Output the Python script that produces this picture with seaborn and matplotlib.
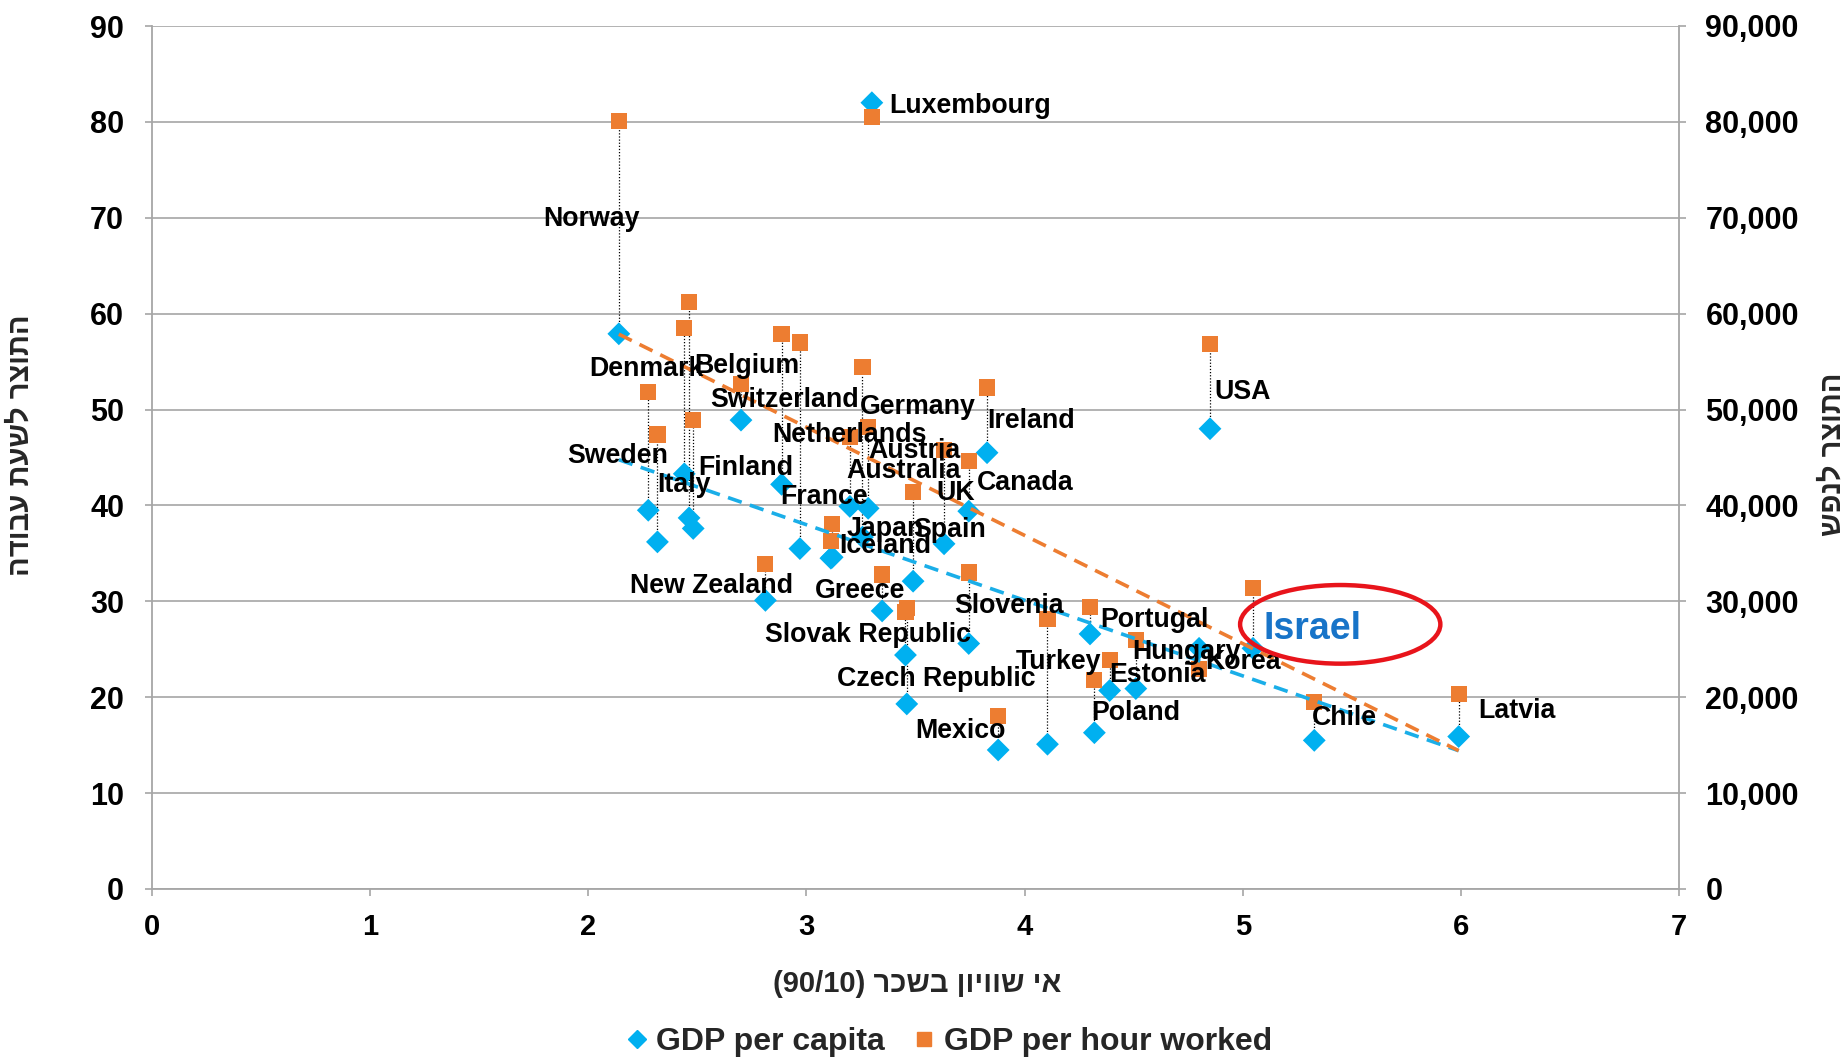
import numpy as np
import pandas as pd
import matplotlib
matplotlib.use("Agg")
import matplotlib.pyplot as plt
from matplotlib.lines import Line2D
from matplotlib.patches import Ellipse
from matplotlib.ticker import FuncFormatter
import seaborn as sns

# ---------------- data ----------------
countries = ["Norway", "Sweden", "Italy", "Denmark", "Belgium", "Finland", "Switzerland",
             "New Zealand", "Netherlands", "France", "Iceland", "Japan", "Australia", "Germany",
             "Austria", "Luxembourg", "Greece", "Slovak Republic", "Czech Republic", "UK",
             "Spain", "Canada", "Slovenia", "Ireland", "Mexico", "Turkey", "Portugal", "Poland",
             "Estonia", "Hungary", "Korea", "USA", "Israel", "Chile", "Latvia"]
wage_inequality = [2.14, 2.275, 2.317, 2.44, 2.462, 2.481, 2.70,
                   2.812, 2.886, 2.97, 3.112, 3.118, 3.199, 3.257,
                   3.283, 3.30, 3.347, 3.454, 3.46, 3.489,
                   3.631, 3.744, 3.744, 3.828, 3.879, 4.105, 4.30, 4.32,
                   4.39, 4.51, 4.80, 4.85, 5.047, 5.328, 5.99]
gdp_per_capita = [57900, 39500, 36200, 43300, 38700, 37600, 48900,
                  30100, 42200, 35500, 34500, 34600, 39900, 36700,
                  39700, 82000, 29000, 24400, 19300, 32100,
                  36000, 39400, 25600, 45500, 14500, 15100, 26600, 16300,
                  20700, 20900, 25100, 48000, 25100, 15500, 15900]
gdp_per_hour = [80.1, 51.8, 47.4, 58.5, 61.2, 48.9, 52.7,
                33.9, 57.9, 57.0, 36.3, 38.1, 47.1, 54.4,
                48.2, 80.5, 32.8, 28.9, 29.3, 41.4,
                45.8, 44.6, 33.0, 52.3, 18.0, 28.2, 29.4, 21.8,
                23.9, 26.0, 22.9, 56.8, 31.4, 19.5, 20.3]
y_ticks_left = [0, 10, 20, 30, 40, 50, 60, 70, 80, 90]
x_ticks = [0, 1, 2, 3, 4, 5, 6, 7]

# ---------------- style ----------------
BLUE = "#00B0F0"
ORANGE = "#ED7D31"
GRID = "#A6A6A6"
FONT = ["Liberation Sans", "DejaVu Sans"]

# label offsets (reference pixels: dx right, dy down) relative to each blue point
label_offsets = {
    "Norway": (-64, -97), "Luxembourg": (15, 3), "Denmark": (-81, -89), "Belgium": (4, -129),
    "Switzerland": (-26, -17), "Sweden": (-69, -46), "Finland": (4, -51), "Italy": (0, -48),
    "Netherlands": (-8, -42), "Germany": (-2, -110), "Austria": (0, -49), "Australia": (-3, -30),
    "France": (-17, -44), "Ireland": (0, -27), "Canada": (7, -24), "UK": (20, -75),
    "Japan": (12, -24), "Spain": (-26, -12), "Iceland": (7, -10), "New Zealand": (-115, -12),
    "Greece": (-57, -17), "Slovak Republic": (-119, -17), "Czech Republic": (-59, -21),
    "Slovenia": (-12, -32), "Mexico": (-70, -16), "Turkey": (-27, -70), "Portugal": (9, -12),
    "Poland": (-3, -17), "Estonia": (0, -13), "Hungary": (-3, -31), "Korea": (5, 12),
    "USA": (4, -31), "Chile": (-2, -19), "Latvia": (17, -22),
}
PX2PT = (1848 / 1568) * 72 / 100

sns.set_theme(style="white")
plt.rcParams["font.family"] = FONT
plt.rcParams["font.weight"] = "bold"

df = pd.DataFrame({"country": countries, "ineq": wage_inequality,
                   "GDP per capita": np.array(gdp_per_capita) / 1000.0,
                   "GDP per hour worked": gdp_per_hour})
long = df.melt(id_vars=["country", "ineq"], value_vars=["GDP per capita", "GDP per hour worked"],
               var_name="series", value_name="value")

fig = plt.figure(figsize=(18.48, 10.60), dpi=100)
ax = fig.add_axes([152 / 1848, 1 - 889 / 1060, (1679 - 152) / 1848, (889 - 26) / 1060])

# connectors
ax.vlines(df["ineq"], df["GDP per capita"], df["GDP per hour worked"],
          colors="black", linestyles=(0, (1, 1.5)), linewidth=0.9, zorder=2)

sns.scatterplot(data=long, x="ineq", y="value", hue="series", style="series",
                palette={"GDP per capita": BLUE, "GDP per hour worked": ORANGE},
                markers={"GDP per capita": "D", "GDP per hour worked": "s"},
                s=135, linewidth=0, legend=False, ax=ax, zorder=3)

sns.regplot(data=df, x="ineq", y="GDP per capita", scatter=False, ci=None, ax=ax,
            line_kws=dict(color="#1AAEE8", lw=2.6, dashes=(4, 2.4), zorder=4))
sns.regplot(data=df, x="ineq", y="GDP per hour worked", scatter=False, ci=None, ax=ax,
            line_kws=dict(color=ORANGE, lw=2.6, dashes=(4, 2.4), zorder=4))

# labels
for c, xv, yv in zip(countries, df["ineq"], df["GDP per capita"]):
    if c == "Israel":
        continue
    dx, dy = label_offsets[c]
    ax.annotate(c, (xv, yv), xytext=(dx * PX2PT, -dy * PX2PT), textcoords="offset points",
                ha="left", va="center", fontsize=19.3, fontweight="bold", color="black", zorder=6)

# Israel highlight
isr = countries.index("Israel")
ix, iy = wage_inequality[isr], gdp_per_capita[isr] / 1000.0
ax.annotate("Israel", (ix, iy), xytext=(9 * PX2PT, 16 * PX2PT), textcoords="offset points",
            ha="left", va="center", fontsize=27, fontweight="bold", color="#1874C8", zorder=6)
ax.add_patch(Ellipse((ix + 0.40, iy + 2.5), 0.918, 8.2, fill=False, edgecolor="#E8141B",
                     linewidth=3.2, zorder=6))

# axes
ax.set_xlim(0, 7)
ax.set_ylim(0, 90)
ax.set_xticks(x_ticks)
ax.set_yticks(y_ticks_left)
ax.yaxis.grid(True, color=GRID, linewidth=1.2)
ax.xaxis.grid(False)
ax.set_xlabel("")
ax.set_ylabel("")
for side in ["left", "right", "bottom"]:
    ax.spines[side].set_visible(True)
    ax.spines[side].set_color(GRID)
    ax.spines[side].set_linewidth(1.3)
ax.spines["top"].set_visible(False)
ax.tick_params(axis="both", which="major", direction="out", length=5, width=1.2, color=GRID,
               labelcolor="black")
ax.tick_params(axis="y", pad=15, labelsize=22, left=True)
ax.tick_params(axis="x", pad=12, labelsize=21, bottom=True)
for t in ax.get_xticklabels() + ax.get_yticklabels():
    t.set_fontweight("bold")

ax2 = ax.twinx()
ax2.set_ylim(0, 90000)
ax2.set_yticks([v * 1000 for v in y_ticks_left])
ax2.yaxis.set_major_formatter(FuncFormatter(lambda v, p: f"{int(v):,}"))
ax2.tick_params(axis="y", direction="out", length=5, width=1.2, color=GRID, labelsize=22,
                labelcolor="black", pad=14, right=True)
for t in ax2.get_yticklabels():
    t.set_fontweight("bold")
for side in ax2.spines:
    ax2.spines[side].set_visible(False)
ax2.grid(False)

# axis titles (Hebrew in visual order)
fig.text(0.4963, 1 - 984 / 1060, "(90/10) רכשב ןויווש יא", ha="center", va="center",
         fontsize=21, fontweight="bold", family=FONT)
fig.text(21 / 1848, 1 - 445 / 1060, "הדובע תעשל רצותה", ha="center", va="center",
         rotation=90, fontsize=21, fontweight="bold", family=FONT)
fig.text(1833 / 1848, 1 - 454 / 1060, "שפנל רצותה", ha="center", va="center",
         rotation=90, fontsize=21, fontweight="bold", family=FONT)

handles = [Line2D([], [], marker="D", color=BLUE, linestyle="none", markersize=9),
           Line2D([], [], marker="s", color=ORANGE, linestyle="none", markersize=10)]
fig.legend(handles, ["GDP per capita", "GDP per hour worked"], loc="center",
           bbox_to_anchor=(0.512, 1 - 1042 / 1060), ncol=2, frameon=False,
           prop=dict(size=23, weight="bold", family=FONT), handletextpad=0.1,
           columnspacing=0.75, handlelength=1.0)

fig.savefig("out.png", dpi=100)
